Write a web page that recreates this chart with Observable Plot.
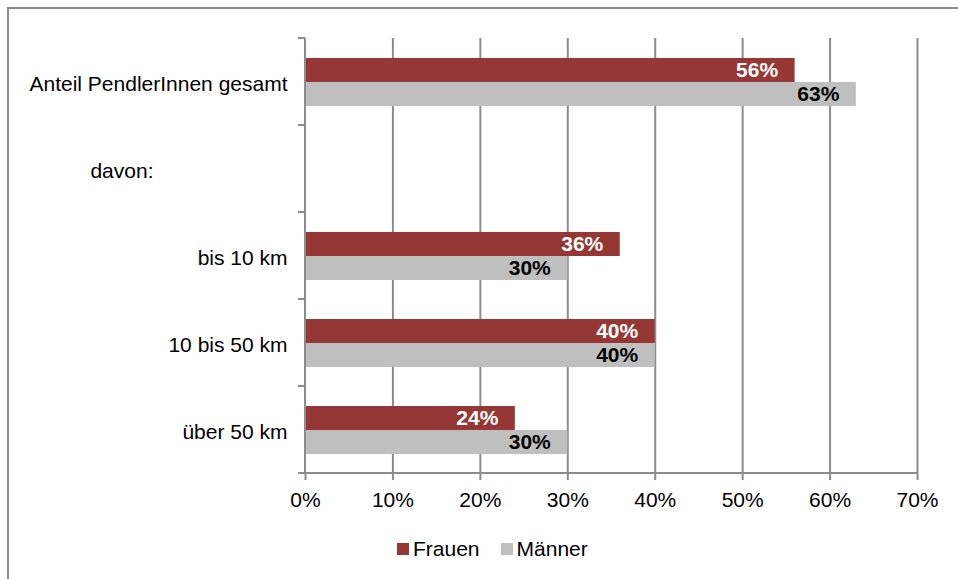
<!DOCTYPE html>
<html lang="de">
<head>
<meta charset="utf-8">
<script src="https://cdn.jsdelivr.net/npm/d3@7"></script>
<script src="https://cdn.jsdelivr.net/npm/@observablehq/plot@0.6"></script>
<style>
  html, body { margin: 0; padding: 0; background: #fff; }
  #wrap { position: relative; width: 958px; height: 579px; overflow: hidden; background: #fff;
          font-family: "Liberation Sans", Arial, sans-serif; color: #000; }
  #border { position: absolute; left: 7px; top: 7px; width: 2000px; height: 2000px;
            border-left: 2px solid #8c8c8c; border-top: 2px solid #8c8c8c; }
  #chart { position: absolute; left: 0; top: 0; }
  #legend { position: absolute; left: 397px; top: 537px; display: flex; align-items: center;
            font-size: 21px; line-height: 24px; }
  .item { display: flex; align-items: center; margin-right: 21px; }
  .sw { width: 12px; height: 12px; margin-right: 4px; }
</style>
</head>
<body>
<div id="wrap">
  <div id="border"></div>
  <div id="chart"></div>
  <div id="legend"></div>
</div>
<script>
// Pendlerinnen und Pendler nach Geschlecht und Distanz (Anteile in %)
const categories = ["Anteil PendlerInnen gesamt", "davon:", "bis 10 km", "10 bis 50 km", "über 50 km"];
const series = ["Frauen", "Männer"];
const frauen = [56, null, 36, 40, 24];
const maenner = [63, null, 30, 40, 30];
const xTicks = [0, 10, 20, 30, 40, 50, 60, 70];
const seriesColors = ["#953735", "#bfbfbf"];
const labelColors = ["#ffffff", "#000000"];
const gridColor = "#8c8c8c";

const valuesBySeries = [frauen, maenner];
const rows = categories.flatMap((c, i) =>
  series.map((s, j) => ({category: c, series: s, value: valuesBySeries[j][i], labelColor: labelColors[j]}))
).filter(d => d.value != null);

const chart = Plot.plot({
  width: 958,
  height: 520,
  marginLeft: 305,
  marginRight: 41,
  marginTop: 37,
  marginBottom: 46,
  style: {fontFamily: "'Liberation Sans', Arial, sans-serif", fontSize: "21px", color: "#000", background: "transparent"},
  x: {domain: [0, 70]},
  y: {domain: series, paddingInner: 0, paddingOuter: 0.78, axis: null},
  fy: {domain: categories, padding: 0, label: null},
  color: {domain: series, range: seriesColors},
  marks: [
    Plot.gridX(xTicks.slice(1), {stroke: gridColor, strokeOpacity: 1, strokeWidth: 2}),
    Plot.barX(rows, {x: "value", y: "series", fy: "category", fill: "series"}),
    Plot.text(rows, {
      x: "value", y: "series", fy: "category",
      text: d => d.value + "%",
      textAnchor: "end", dx: -17,
      fill: "labelColor", fontWeight: "bold", fontSize: 21
    }),
    Plot.axisFy({
      anchor: "left", tickSize: 0, tickPadding: 18, fontSize: 21, dy: 2, label: null,
      tickFormat: d => d === "davon:" ? "" : d
    }),
    Plot.text(["davon:"], {
      fy: d => d, text: d => d, frameAnchor: "left", textAnchor: "end",
      dx: -152, dy: 2, fontSize: 21, fill: "#000"
    }),
    Plot.axisX(xTicks, {
      tickSize: 7, tickPadding: 12, stroke: gridColor, strokeWidth: 2,
      tickFormat: d => d + "%", fontSize: 21, label: null, fill: "#000"
    })
  ]
});

document.getElementById("chart").appendChild(chart);

// Category axis: vertical line with ticks at the band boundaries, plus the baseline
const fy = chart.scale("fy");
const x = chart.scale("x");
const x0 = x.apply(0);
const x1 = x.apply(d3.max(xTicks));
const bounds = categories.map(c => fy.apply(c));
bounds.push(bounds[bounds.length - 1] + fy.bandwidth);
const svg = d3.select(chart.tagName.toLowerCase() === "svg" ? chart : chart.querySelector("svg"));
const g = svg.append("g").attr("stroke", gridColor).attr("stroke-width", 2);
g.append("line").attr("x1", x0).attr("x2", x0).attr("y1", bounds[0]).attr("y2", bounds[bounds.length - 1]);
g.selectAll(".bt").data(bounds).join("line")
  .attr("x1", x0 - 7).attr("x2", x0).attr("y1", d => d).attr("y2", d => d);
g.append("line").attr("x1", x0 - 7).attr("x2", x1)
  .attr("y1", bounds[bounds.length - 1]).attr("y2", bounds[bounds.length - 1]);

// Legend built from the color scale
const color = chart.scale("color");
const legend = d3.select("#legend");
color.domain.forEach((s, i) => {
  const item = legend.append("div").attr("class", "item");
  item.append("div").attr("class", "sw").style("background", color.range[i]);
  item.append("span").text(s);
});
</script>
</body>
</html>
